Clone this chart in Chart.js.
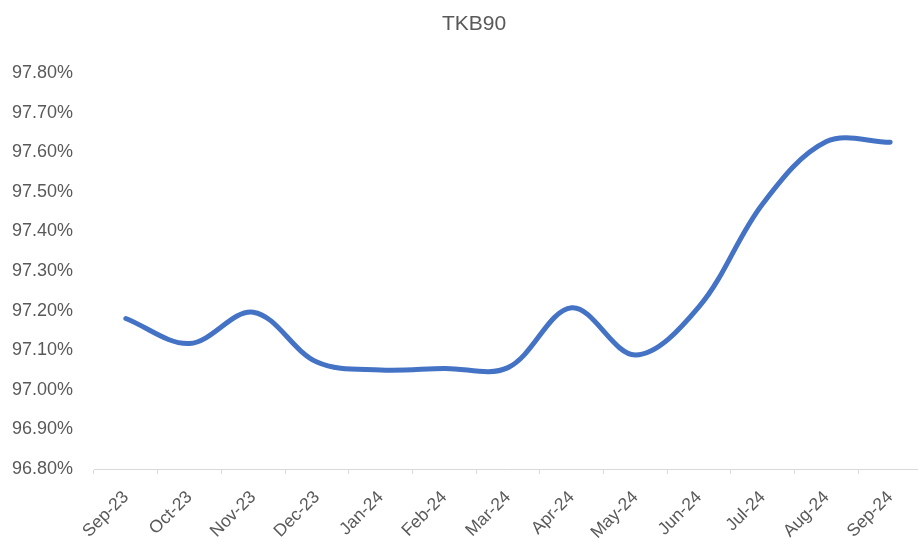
<!DOCTYPE html>
<html>
<head>
<meta charset="utf-8">
<script src="https://cdn.jsdelivr.net/npm/chart.js@4"></script>
<style>
html,body{margin:0;padding:0;background:#fff;overflow:hidden;}
#wrap{width:922px;height:541px;position:relative;}
</style>
</head>
<body>
<div id="wrap"><canvas id="c"></canvas></div>
<script>
const categories = ['Sep-23','Oct-23','Nov-23','Dec-23','Jan-24','Feb-24','Mar-24','Apr-24','May-24','Jun-24','Jul-24','Aug-24','Sep-24'];
const tkb90 = [97.18, 97.117, 97.196, 97.07, 97.05, 97.054, 97.056, 97.207, 97.088, 97.21, 97.47, 97.627, 97.625];
const yMin = 96.8, yMax = 97.8, yStep = 0.1;
const titleText = 'TKB90';

const txt = '#595959';
new Chart(document.getElementById('c'), {
  type: 'line',
  data: {
    labels: categories,
    datasets: [{
      label: titleText,
      data: tkb90,
      borderColor: '#4472C4',
      borderWidth: 5,
      borderCapStyle: 'round',
      borderJoinStyle: 'round',
      pointRadius: 0,
      tension: 0.35,
      fill: false
    }]
  },
  options: {
    responsive: true,
    maintainAspectRatio: false,
    animation: false,
    layout: { padding: { left: 26, right: 0, top: 0, bottom: 0 } },
    plugins: {
      legend: { display: false },
      tooltip: { enabled: false },
      title: {
        display: true,
        text: titleText,
        color: txt,
        font: { family: 'Liberation Sans', size: 21, weight: 'normal' },
        padding: { top: 12, bottom: 35.8 }
      }
    },
    scales: {
      x: {
        type: 'category',
        offset: true,
        grid: { display: true, drawOnChartArea: false, drawTicks: true, tickLength: 5, color: '#D9D9D9', offset: true },
        border: { display: true, color: '#D9D9D9', width: 1 },
        ticks: { color: txt, font: { family: 'Liberation Sans', size: 17.5 }, maxRotation: 45, minRotation: 45, padding: 13, autoSkip: false },
        afterFit: s => { s.height = 72; }
      },
      y: {
        min: yMin, max: yMax,
        grid: { display: false, drawTicks: false },
        border: { display: false },
        ticks: {
          stepSize: yStep,
          color: txt,
          padding: 21,
          font: { family: 'Liberation Sans', size: 18 },
          callback: v => v.toFixed(2) + '%'
        },
        afterFit: s => { s.width = 68; s._computeLabelArea = () => undefined; }
      }
    }
  }
});
</script>
</body>
</html>
